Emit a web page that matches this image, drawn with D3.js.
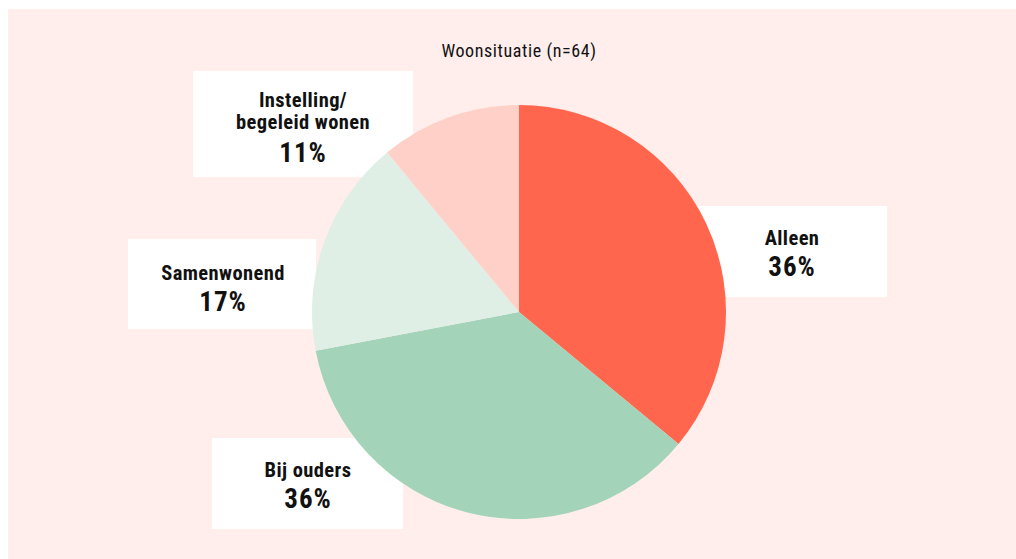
<!DOCTYPE html>
<html>
<head>
<meta charset="utf-8">
<script src="https://cdn.jsdelivr.net/npm/d3@7"></script>
<style>
  body { margin: 0; background: #fff; }
  text { font-family: "Liberation Sans Narrow", "Roboto Condensed", Roboto, sans-serif; }
</style>
</head>
<body>
<div id="chart"></div>
<script>

  var categories = ["Alleen", "Bij ouders", "Samenwonend", "Instelling/ begeleid wonen"];
  var labelLines = [["Alleen"], ["Bij ouders"], ["Samenwonend"], ["Instelling/", "begeleid wonen"]];
  var percentages = [36, 36, 17, 11];
  var colors = ["#ff664d", "#a3d3b8", "#e0efe6", "#ffd0c8"];
  var title = "Woonsituatie (n=64)";

  // label boxes: [x, y, w, h]
  var boxes = [
    [697, 206, 190, 91],
    [212, 438, 191, 91],
    [128, 239, 188, 90],
    [193, 71, 220, 106]
  ];

  var width = 1016;
  var height = 559;
  var cx = 519, cy = 312, radius = 207;

  var svg = d3.select("#chart")
    .append("svg")
    .attr("width", width)
    .attr("height", height);

  svg.append("rect")
    .attr("x", 8).attr("y", 9)
    .attr("width", width - 8).attr("height", height - 9)
    .attr("fill", "#ffeeeb");

  svg.append("text")
    .attr("x", cx).attr("y", 57)
    .attr("text-anchor", "middle")
    .attr("font-size", 18)
    .attr("letter-spacing", 0.6)
    .attr("fill", "#111")
    .text(title);

  var dataset = categories.map(function(c, i) {
    return { name: c, lines: labelLines[i], value: percentages[i], color: colors[i], box: boxes[i] };
  });

  // boxes behind the pie
  var labels = svg.selectAll("g.label")
    .data(dataset)
    .enter()
    .append("g")
    .attr("class", "label");

  labels.append("rect")
    .attr("x", function(d) { return d.box[0]; })
    .attr("y", function(d) { return d.box[1]; })
    .attr("width", function(d) { return d.box[2]; })
    .attr("height", function(d) { return d.box[3]; })
    .attr("fill", "#fff");

  var pie = d3.pie().sort(null).value(function(d) { return d.value; });
  var arc = d3.arc().innerRadius(0).outerRadius(radius);

  svg.append("g")
    .attr("transform", "translate(" + cx + "," + cy + ")")
    .selectAll("path")
    .data(pie(dataset))
    .enter()
    .append("path")
    .attr("d", arc)
    .attr("fill", function(d) { return d.data.color; });

  // text on top
  var textPos = [
    [792, 245],
    [308, 477],
    [223, 280],
    [303, 107]
  ];

  dataset.forEach(function(d, i) {
    var g = svg.append("g");
    var tx = textPos[i][0], ty = textPos[i][1];
    d.lines.forEach(function(line, j) {
      g.append("text")
        .attr("x", tx).attr("y", ty + j * 22)
        .attr("text-anchor", "middle")
        .attr("font-size", 20.5)
        .attr("letter-spacing", 0.4)
        .attr("font-weight", "bold")
        .attr("fill", "#111")
        .text(line);
    });
    g.append("text")
      .attr("x", tx).attr("y", ty + (d.lines.length - 1) * 22 + (d.lines.length > 1 ? 33 : 31))
      .attr("text-anchor", "middle")
      .attr("font-size", 27)
      .attr("letter-spacing", 1)
      .attr("font-weight", "bold")
      .attr("fill", "#111")
      .text(d.value + "%");
  });

</script>
</body>
</html>
